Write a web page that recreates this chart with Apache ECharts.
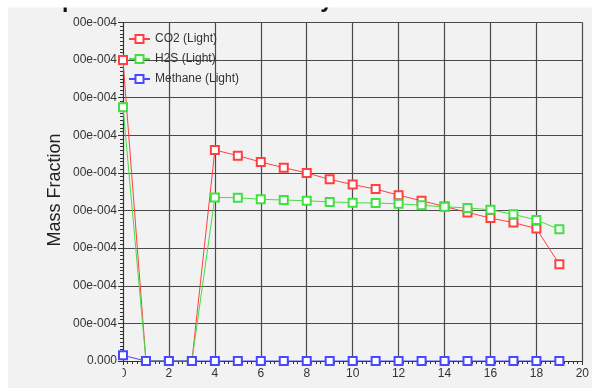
<!DOCTYPE html>
<html><head><meta charset="utf-8">
<script src="https://cdn.jsdelivr.net/npm/echarts@6/dist/echarts.min.js"></script>
<style>html,body{margin:0;padding:0;background:#fff}#c{width:592px;height:388px}</style>
</head><body><div id="c"></div>
<script>
// x positions (step index)
const steps = [0,1,2,3,4,5,6,7,8,9,10,11,12,13,14,15,16,17,18,19];
// values in units of 1e-4
const co2 = [8.0,0,0,0,5.61,5.46,5.29,5.14,5.0,4.83,4.69,4.57,4.41,4.26,4.11,3.95,3.80,3.68,3.52,2.57];
const h2s = [6.75,0,0,0,4.35,4.34,4.30,4.28,4.26,4.23,4.21,4.20,4.18,4.14,4.10,4.07,4.02,3.90,3.75,3.50];
const methane = [0.15,0,0,0,0,0,0,0,0,0,0,0,0,0,0,0,0,0,0,0];
const seriesNames = ['CO2 (Light)','H2S (Light)','Methane (Light)'];
const yTickLabels = ['0.000','1.000e-004','2.000e-004','3.000e-004','4.000e-004','5.000e-004','6.000e-004','7.000e-004','8.000e-004','9.000e-004'];
const SCALE = 1e-4;

const toPairs = arr => steps.map((s,i)=>[s, arr[i]*SCALE]);
const chart = echarts.init(document.getElementById('c'));
const mk = (name, data, color) => ({
  name, type:'line', data: toPairs(data), symbol:'emptyRect', symbolSize:8,
  lineStyle:{color, width:1}, itemStyle:{color, borderColor:color, borderWidth:1},
  emphasis:{disabled:true}, animation:false, z:3
});
chart.setOption({
  animation:false,
  backgroundColor:'#f2f2f2',
  grid:{left:123, right:9, top:22.5, bottom:27, containLabel:false},
  legend:{
    orient:'vertical', left:123, top:28, itemWidth:21, itemHeight:10, itemGap:8,
    textStyle:{fontFamily:'Liberation Sans, Arial', fontSize:12, color:'#333', padding:[0,0,0,0]},
    data:seriesNames
  },
  xAxis:{
    type:'value', min:0, max:20, interval:2,
    axisLine:{show:true, onZero:false, lineStyle:{color:'#333', width:1}},
    axisTick:{show:true, length:4, lineStyle:{color:'#333'}},
    minorTick:{show:true, splitNumber:10, length:3, lineStyle:{color:'#333'}},
    splitLine:{show:true, lineStyle:{color:'#4a4a4a', width:1.2}},
    axisLabel:{fontFamily:'Liberation Sans, Arial', fontSize:12, color:'#333', margin:7}
  },
  yAxis:{
    type:'value', min:0, max:9*SCALE, interval:SCALE,
    axisLine:{show:true, lineStyle:{color:'#333', width:1}},
    axisTick:{show:true, length:5, lineStyle:{color:'#333'}},
    minorTick:{show:true, splitNumber:10, length:3, lineStyle:{color:'#333'}},
    splitLine:{show:true, lineStyle:{color:'#4a4a4a', width:1.2}},
    axisLabel:{fontFamily:'Liberation Sans, Arial', fontSize:12, color:'#333', margin:6,
      formatter: v => yTickLabels[Math.round(v/SCALE)]}
  },
  series:[
    mk(seriesNames[0], co2, '#ff4040'),
    mk(seriesNames[1], h2s, '#40e040'),
    mk(seriesNames[2], methane, '#4848ff')
  ],
  graphic:{elements:[
    {type:'text', id:'title', z:50, zlevel:0, x:11, y:12, style:{text:'Component Mass Fraction by Time', font:'bold 23px "Liberation Sans", Arial', fill:'#111', verticalAlign:'bottom'}},
    {type:'rect', id:'cov1', z:150, zlevel:0, shape:{x:8, y:14, width:65, height:350}, style:{fill:'#f2f2f2'}},
    {type:'rect', id:'cov0', z:150, zlevel:0, shape:{x:108, y:367, width:14.5, height:18}, style:{fill:'#f2f2f2'}},
    {type:'rect', id:'wtop', z:160, zlevel:0, shape:{x:0, y:0, width:592, height:7.5}, style:{fill:'#ffffff'}},
    {type:'rect', id:'wleft', z:160, zlevel:0, shape:{x:0, y:0, width:8, height:388}, style:{fill:'#ffffff'}},
    {type:'text', id:'yname', z:170, zlevel:0, x:55, y:190, rotation:Math.PI/2, style:{text:'Mass Fraction', font:'18px "Liberation Sans", Arial', fill:'#222', align:'center', verticalAlign:'middle'}}
  ]}
});
</script></body></html>
